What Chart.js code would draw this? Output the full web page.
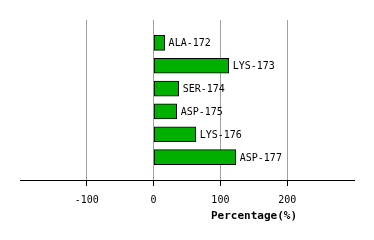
<!DOCTYPE html>
<html>
<head>
<meta charset="utf-8">
<script src="https://cdn.jsdelivr.net/npm/chart.js@4/dist/chart.umd.min.js"></script>
<style>
  html, body { margin: 0; padding: 0; background: #fff; }
  #wrap { width: 374px; height: 240px; }
</style>
</head>
<body>
<div id="wrap"><canvas id="chart" width="374" height="240"></canvas></div>
<script>
// residues and their percentages
const residues = ["ALA-172", "LYS-173", "SER-174", "ASP-175", "LYS-176", "ASP-177"];
const percentages = [16.5, 112.5, 37.5, 34.5, 63, 123];
const tickValues = [-100, 0, 100, 200];
const xMin = -200;
const xMax = 300;
const axisTitle = "Percentage(%)";

// one empty slot above and below the bars
const labels = ["", ...residues, ""];
const values = [null, ...percentages, null];

const FONT = "DejaVu Sans Mono";

const barLabels = {
  id: "barLabels",
  afterDatasetsDraw(chart) {
    const ctx = chart.ctx;
    const meta = chart.getDatasetMeta(0);
    ctx.save();
    ctx.font = "10px '" + FONT + "'";
    ctx.fillStyle = "#000";
    ctx.textBaseline = "middle";
    ctx.textAlign = "left";
    meta.data.forEach((bar, i) => {
      if (values[i] == null) return;
      ctx.fillText(labels[i], bar.x + 4, bar.y + 1);
    });
    ctx.restore();
  }
};

const xTitle = {
  id: "xTitle",
  afterDraw(chart) {
    const ctx = chart.ctx;
    const area = chart.chartArea;
    ctx.save();
    ctx.font = "bold 11px '" + FONT + "'";
    ctx.fillStyle = "#000";
    ctx.textBaseline = "middle";
    ctx.textAlign = "center";
    ctx.fillText(axisTitle, area.left + 234, area.bottom + 36);
    ctx.restore();
  }
};

const shown = (v) => tickValues.includes(v);

new Chart(document.getElementById("chart").getContext("2d"), {
  type: "bar",
  data: {
    labels: labels,
    datasets: [{
      data: values,
      backgroundColor: "#00b000",
      borderColor: "#000",
      borderWidth: 1,
      borderSkipped: false,
      barThickness: 15
    }]
  },
  plugins: [barLabels, xTitle],
  options: {
    indexAxis: "y",
    responsive: false,
    animation: false,
    events: [],
    layout: { padding: { left: 20, right: 20, top: 20, bottom: 0 } },
    plugins: {
      legend: { display: false },
      tooltip: { enabled: false }
    },
    scales: {
      x: {
        type: "linear",
        min: xMin,
        max: xMax,
        afterFit(scale) { scale.height = 60; },
        ticks: {
          stepSize: 100,
          padding: 8,
          color: "#000",
          font: { family: FONT, size: 10 },
          maxRotation: 0,
          callback: (v) => shown(v) ? String(v) : ""
        },
        grid: {
          color: (c) => shown(c.tick && c.tick.value) ? "#a0a0a0" : "rgba(0,0,0,0)",
          tickColor: (c) => shown(c.tick && c.tick.value) ? "#000" : "rgba(0,0,0,0)",
          tickLength: 6,
          lineWidth: 1
        },
        border: { display: true, color: "#000", width: 1 }
      },
      y: {
        type: "category",
        offset: false,
        display: false
      }
    }
  }
});
</script>
</body>
</html>
